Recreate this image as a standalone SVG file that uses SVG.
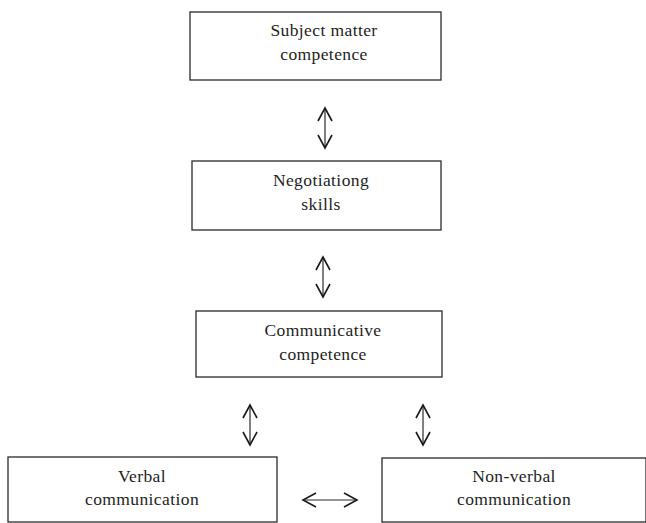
<svg xmlns="http://www.w3.org/2000/svg" width="646" height="523" viewBox="0 0 646 523">
<defs>
<style>
.box{fill:none;stroke:#2a2a2a;stroke-width:1.3}
.t{font-family:"Liberation Serif","Times New Roman",serif;font-size:17.5px;fill:#1e1e1e;text-anchor:middle;letter-spacing:0.4px}
.c{fill:none;stroke:#2a2a2a;stroke-width:1.2}
.h{fill:none;stroke:#1a1a1a;stroke-width:1.6}
</style>
</defs>
<rect width="646" height="523" fill="#ffffff"/>
<g id="node-subject">
<rect class="box" x="190" y="12" width="251" height="68"/>
<text class="t" x="324" y="36">Subject matter</text>
<text class="t" x="324" y="60">competence</text>
</g>
<g id="node-negotiation">
<rect class="box" x="192" y="161" width="249" height="69"/>
<text class="t" x="321" y="186">Negotiationg</text>
<text class="t" x="321" y="210">skills</text>
</g>
<g id="node-communicative">
<rect class="box" x="196" y="311" width="246" height="66"/>
<text class="t" x="323" y="336">Communicative</text>
<text class="t" x="323" y="360">competence</text>
</g>
<g id="node-verbal">
<rect class="box" x="8" y="457" width="269" height="65"/>
<text class="t" x="142" y="482">Verbal</text>
<text class="t" x="142" y="505">communication</text>
</g>
<g id="node-nonverbal">
<rect class="box" x="382" y="458" width="264" height="64"/>
<text class="t" x="514" y="482">Non-verbal</text>
<text class="t" x="514" y="505">communication</text>
</g>
<g id="connectors">
<line class="c" x1="325" y1="108" x2="325" y2="148"/>
<polyline class="h" points="318,121 325,108 332,121"/>
<polyline class="h" points="318,135 325,148 332,135"/>
<line class="c" x1="323" y1="257" x2="323" y2="297"/>
<polyline class="h" points="316,270 323,257 330,270"/>
<polyline class="h" points="316,284 323,297 330,284"/>
<line class="c" x1="250" y1="405" x2="250" y2="445"/>
<polyline class="h" points="243,418 250,405 257,418"/>
<polyline class="h" points="243,432 250,445 257,432"/>
<line class="c" x1="423" y1="405" x2="423" y2="445"/>
<polyline class="h" points="416,418 423,405 430,418"/>
<polyline class="h" points="416,432 423,445 430,432"/>
<line class="c" x1="303" y1="500" x2="357" y2="500"/>
<polyline class="h" points="316,493 303,500 316,507"/>
<polyline class="h" points="344,493 357,500 344,507"/>
</g>
</svg>
